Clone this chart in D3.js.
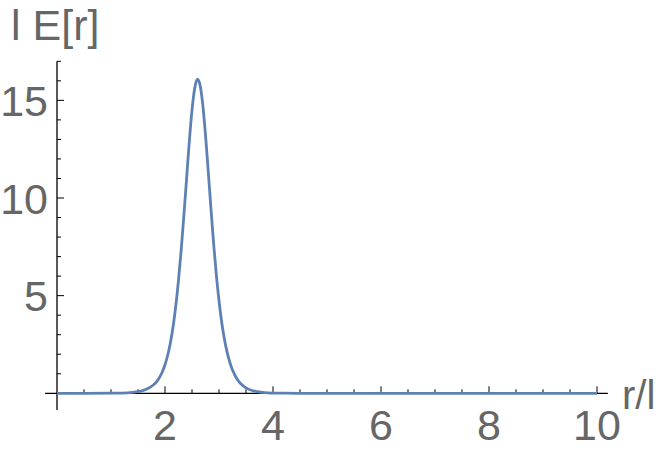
<!DOCTYPE html>
<html><head><meta charset="utf-8">
<script src="https://cdn.jsdelivr.net/npm/d3@7"></script>
<style>body{margin:0;background:#fff}svg{display:block}</style>
</head><body>
<svg id="c" width="664" height="451"></svg>
<script>
// r/l values and corresponding l E[r] values
const rVals = [0, 0.5, 1.0, 1.1, 1.2, 1.3, 1.4, 1.5, 1.6, 1.7, 1.8, 1.85, 1.9, 1.95, 2.0, 2.05, 2.1, 2.15, 2.2, 2.25, 2.3, 2.35, 2.4, 2.45, 2.5, 2.55, 2.6, 2.65, 2.7, 2.75, 2.8, 2.85, 2.9, 2.95, 3.0, 3.05, 3.1, 3.15, 3.2, 3.25, 3.3, 3.35, 3.4, 3.5, 3.6, 3.7, 3.8, 3.9, 4.0, 4.2, 4.5, 5, 6, 7, 8, 9, 10];
const eVals = [0, 0.0002, 0.004, 0.007, 0.013, 0.024, 0.044, 0.08, 0.15, 0.27, 0.46, 0.61, 0.82, 1.09, 1.46, 1.95, 2.59, 3.42, 4.48, 5.79, 7.35, 9.12, 11.01, 12.88, 14.50, 15.62, 16.08, 15.77, 14.77, 13.23, 11.40, 9.49, 7.68, 6.08, 4.74, 3.64, 2.78, 2.11, 1.59, 1.19, 0.90, 0.67, 0.50, 0.28, 0.155, 0.085, 0.046, 0.025, 0.013, 0.004, 0.0008, 0, 0, 0, 0, 0, 0];
const xMajor = [2, 4, 6, 8, 10];
const yMajor = [5, 10, 15];
const yLabel = "l E[r]";
const xLabel = "r/l";

const svg = d3.select("#c");
const x = d3.scaleLinear().domain([0, 10]).range([57, 597]);
const y = d3.scaleLinear().domain([0, 17]).range([393.3, 61.3]);
const font = "'Liberation Sans', Arial, sans-serif";
const txt = "#666666";

// axis lines
svg.append("line").attr("x1", x(-0.22)).attr("x2", x(10.2)).attr("y1", y(0)).attr("y2", y(0))
  .attr("stroke", "#000").attr("stroke-width", 1.3);
svg.append("line").attr("x1", x(0)).attr("x2", x(0)).attr("y1", y(17)).attr("y2", y(-0.85))
  .attr("stroke", "#000").attr("stroke-width", 1.3);

// x ticks
const xTicks = d3.range(0.5, 10.01, 0.5);
svg.selectAll(".xt").data(xTicks).enter().append("line")
  .attr("x1", d => x(d)).attr("x2", d => x(d))
  .attr("y1", y(0)).attr("y2", d => y(0) - (xMajor.includes(d) ? 7 : 4))
  .attr("stroke", "#000").attr("stroke-width", 1);
svg.selectAll(".xl").data(xMajor).enter().append("text")
  .attr("x", d => x(d)).attr("y", 440)
  .attr("text-anchor", "middle").attr("font-family", font).attr("font-size", 43)
  .attr("fill", txt).text(d => d);

// y ticks
const yTicks = d3.range(1, 17.01, 1);
svg.selectAll(".yt").data(yTicks).enter().append("line")
  .attr("x1", x(0)).attr("x2", d => x(0) + (yMajor.includes(d) ? 7 : 4))
  .attr("y1", d => y(d)).attr("y2", d => y(d))
  .attr("stroke", "#000").attr("stroke-width", 1);
svg.selectAll(".yl").data(yMajor).enter().append("text")
  .attr("x", 48).attr("y", d => y(d) + 15.5)
  .attr("text-anchor", "end").attr("font-family", font).attr("font-size", 43)
  .attr("fill", txt).text(d => d);

// axis labels
svg.append("text").attr("x", 11).attr("y", 40).attr("font-family", font).attr("font-size", 43)
  .attr("fill", txt).text(yLabel);
svg.append("text").attr("x", 622).attr("y", 409).attr("font-family", font).attr("font-size", 40)
  .attr("fill", txt).text(xLabel);

// curve
const pts = rVals.map((r, i) => [r, eVals[i]]);
svg.append("path").datum(pts)
  .attr("d", d3.line().x(d => x(d[0])).y(d => y(d[1])).curve(d3.curveMonotoneX))
  .attr("fill", "none").attr("stroke", "#5E81B5").attr("stroke-width", 2.8);
</script>
</body></html>
